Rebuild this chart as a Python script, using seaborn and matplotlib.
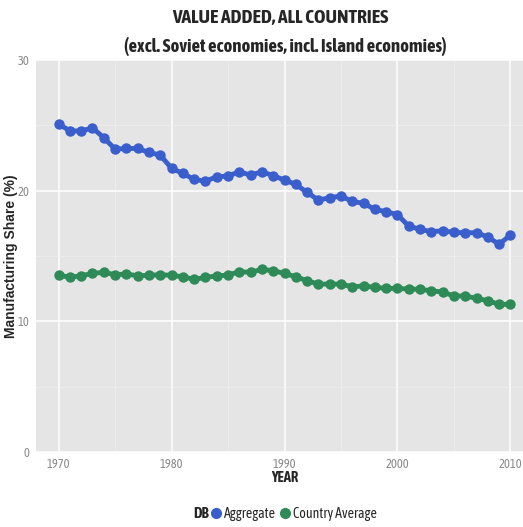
import numpy as np
import pandas as pd
import seaborn as sns
import matplotlib.pyplot as plt
import matplotlib.patheffects as pe
from matplotlib import font_manager
from matplotlib.lines import Line2D
from matplotlib.ticker import MultipleLocator

years = list(range(1970, 2011))
aggregate = [25.1, 24.58, 24.56, 24.81, 24.05, 23.18, 23.23, 23.23, 22.93, 22.72,
             21.71, 21.32, 20.86, 20.73, 21.06, 21.12, 21.45, 21.19, 21.45, 21.15,
             20.81, 20.48, 19.87, 19.28, 19.46, 19.59, 19.18, 19.03, 18.57, 18.39,
             18.16, 17.29, 17.04, 16.86, 16.93, 16.81, 16.78, 16.78, 16.45, 15.9,
             16.6]
country_avg = [13.54, 13.37, 13.49, 13.67, 13.75, 13.57, 13.62, 13.49, 13.52, 13.57,
               13.52, 13.41, 13.21, 13.37, 13.47, 13.54, 13.8, 13.75, 13.98, 13.87,
               13.67, 13.41, 13.11, 12.85, 12.85, 12.85, 12.65, 12.7, 12.6, 12.52,
               12.52, 12.47, 12.45, 12.34, 12.24, 11.94, 11.94, 11.76, 11.58, 11.3,
               11.3]
series_names = ["Aggregate", "Country Average"]
colors = {"Aggregate": "#3A5FCD", "Country Average": "#2E8B57"}

df = pd.DataFrame({
    "YEAR": years * 2,
    "share": aggregate + country_avg,
    "DB": [series_names[0]] * len(years) + [series_names[1]] * len(years),
})

sns.set_style("whitegrid", {"axes.facecolor": "#E5E5E5", "grid.color": "white"})

# look for a narrow font (the reference uses an Arial Narrow like face)
cands = {}
for f in font_manager.fontManager.ttflist:
    if "Narrow" in f.name or "Condensed" in f.name:
        w = f.weight if isinstance(f.weight, int) else 400
        cands.setdefault(f.name, set()).add(w)
narrow = None
has_bold = False
for n, ws in sorted(cands.items()):
    if max(ws) >= 600:
        narrow, has_bold = n, True
        break
if narrow is None and cands:
    narrow = sorted(cands)[0]
fams = ([narrow] if narrow else []) + ["Liberation Sans", "DejaVu Sans"]
plt.rcParams['font.family'] = fams
# fake bold with a thin outline if the narrow face has no bold weight
bold_fx = [] if has_bold else [pe.withStroke(linewidth=0.9, foreground="black")]

fig = plt.figure(figsize=(5.23, 5.27), dpi=100)
ax = fig.add_axes([36 / 523, 75 / 527, 497 / 523, 392 / 527])

sns.lineplot(data=df, x="YEAR", y="share", hue="DB", palette=colors,
             marker="o", markersize=7.5, markeredgewidth=0, linewidth=3.5,
             legend=False, ax=ax)

ax.set_xlim(1968, 2012)
ax.set_ylim(0, 30)
ax.xaxis.set_major_locator(MultipleLocator(10))
ax.xaxis.set_minor_locator(MultipleLocator(5))
ax.yaxis.set_major_locator(MultipleLocator(10))
ax.yaxis.set_minor_locator(MultipleLocator(5))
ax.grid(True, which="major", color="white", linewidth=1.1)
ax.grid(True, which="minor", color="#F0F0F0", linewidth=0.5)
for s in ax.spines.values():
    s.set_visible(False)
ax.tick_params(which="major", length=3, color="#7F7F7F", labelcolor="#8A8A8A",
               labelsize=9, pad=1.5)
ax.tick_params(which="minor", length=0)

xl = ax.set_xlabel("YEAR", fontsize=10.5, fontweight="bold", labelpad=0)
xl.set_path_effects(bold_fx)
ax.set_ylabel("Manufacturing Share (%)", fontsize=10, fontweight="bold",
              family=["Liberation Sans", "DejaVu Sans"])
ax.yaxis.set_label_coords(-18 / 497, 0.5)

t1 = fig.text(0.536, 1 - 18 / 527, "VALUE ADDED, ALL COUNTRIES", ha="center", va="center",
              fontsize=14, fontweight="bold")
t2 = fig.text(0.546, 1 - 47 / 527, "(excl. Soviet economies, incl. Island economies)",
              ha="center", va="center", fontsize=13.5, fontweight="bold")
for t in (t1, t2):
    t.set_path_effects(bold_fx)

# legend along the bottom, title on the left like ggplot
handles = [Line2D([], [], linestyle="", marker="o", markersize=7,
                  color=colors[n]) for n in series_names]
leg = fig.legend(handles, series_names, loc="center",
                 bbox_to_anchor=(294 / 523, 1 - 514 / 527),
                 ncol=2, frameon=False, fontsize=10, handlelength=0.7,
                 handletextpad=0.2, columnspacing=0.3, borderpad=0)
fig.canvas.draw()
bb = leg.get_window_extent()
db = fig.text((bb.x0 - 2) / 523, 1 - 514 / 527, "DB", ha="right", va="center",
              fontsize=11, fontweight="bold")
db.set_path_effects(bold_fx)

plt.savefig("out.png", dpi=100)
plt.close()
